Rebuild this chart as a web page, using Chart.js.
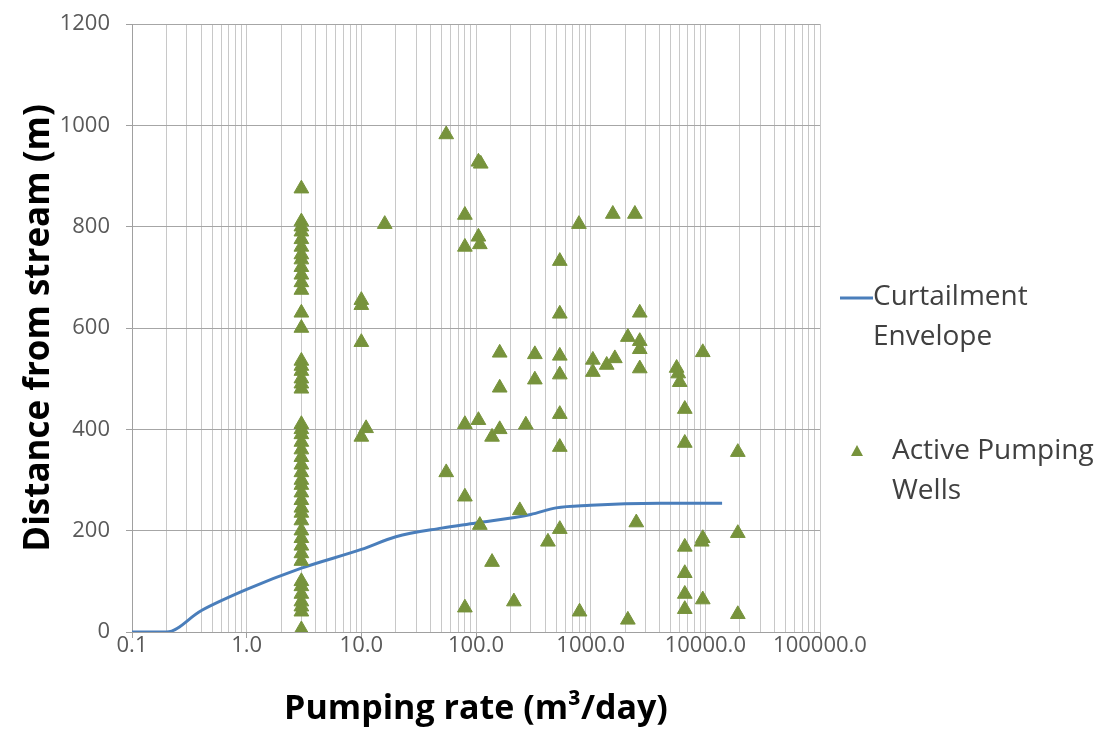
<!DOCTYPE html>
<html>
<head>
<meta charset="utf-8">
<title>Curtailment envelope</title>
<script src="https://cdn.jsdelivr.net/npm/chart.js@4.4.0/dist/chart.umd.min.js"></script>
<style>
  html, body { margin: 0; padding: 0; background: #fff; }
  #wrap { width: 1102px; height: 740px; }
</style>
</head>
<body>
<div id="wrap"><canvas id="wells-chart" width="1102" height="740"></canvas></div>
<script>
// Curtailment envelope (pumping rate m3/day -> distance m)
var envX = [0.1, 0.2, 0.4, 1, 3, 10, 20, 50, 100, 300, 500, 1000, 2000, 4000, 14000];
var envY = [0, 0, 42, 84, 126, 163, 188, 205, 215, 232, 245, 250, 253, 254, 254];

// Active pumping wells
var wellX = [
  3,3,3,3,3,3,3,3,3,3,3,3,3,3,3,3,3,3,3,3,3,3,3,3,
  3,3,3,3,3,3,3,3,3,3,3,3,3,3,3,3,3,3,3,3,3,3,3,
  10,10,10,10,11, 16, 55,55, 80,80,80,80,80,
  105,110,105,108,105,108, 138,138, 161,161,161, 214, 241, 272, 326,326, 424,
  538,538,538,538,538,538,538, 790,800,
  1045,1045,1380,1625, 1560,2430, 2110,2110, 2680,2680,2680,2680,2500,
  5620,5800,5980, 6620,6620,6620,6620,6620,6620,
  9500,9500,9300,9500, 19200,19200,19200
];
var wellY = [
  875,810,800,790,775,760,745,735,720,705,690,675,630,600,535,525,515,500,490,480,410,400,390,375,
  360,345,330,315,300,290,275,260,245,235,220,200,185,170,155,140,100,90,75,60,50,40,5,
  655,645,572,385,402, 805, 982,315, 823,760,410,267,48,
  928,924,780,765,418,211, 385,138, 551,482,400, 60, 240, 409, 548,498, 178,
  732,628,545,508,430,365,203, 805,40,
  537,513,527,540, 825,825, 582,24, 630,574,558,520,216,
  521,510,493, 440,373,168,116,75,45,
  552,185,178,64, 355,195,35
];

// axis ticks
var xMajor = [0.1, 1, 10, 100, 1000, 10000, 100000];
var xTickLabels = ['0.1', '1.0', '10.0', '100.0', '1000.0', '10000.0', '100000.0'];
var yTicks = [0, 200, 400, 600, 800, 1000, 1200];

var seriesNames = ['Curtailment Envelope', 'Active Pumping Wells'];
var lineColor = '#4a7ebb';
var wellColor = '#77933c';

function toPoints(xs, ys) {
  var pts = [];
  for (var i = 0; i < xs.length; i++) pts.push({x: xs[i], y: ys[i]});
  return pts;
}

function isMajor(v) {
  for (var i = 0; i < xMajor.length; i++) {
    if (Math.abs(v / xMajor[i] - 1) < 1e-6) return i;
  }
  return -1;
}

// legend drawn at the right of the plot, two-line labels
var sideLegend = {
  id: 'sideLegend',
  afterDraw: function(chart) {
    var ctx = chart.ctx;
    ctx.save();
    ctx.font = '28px "Open Sans", sans-serif';
    ctx.fillStyle = '#404040';
    ctx.textBaseline = 'middle';
    // line sample
    ctx.strokeStyle = lineColor;
    ctx.lineWidth = 3;
    ctx.beginPath();
    ctx.moveTo(840, 298);
    ctx.lineTo(873, 298);
    ctx.stroke();
    ctx.fillText('Curtailment', 873, 297);
    ctx.fillText('Envelope', 873, 337);
    // marker sample
    ctx.fillStyle = wellColor;
    ctx.beginPath();
    ctx.moveTo(857, 445);
    ctx.lineTo(863, 456);
    ctx.lineTo(851, 456);
    ctx.closePath();
    ctx.fill();
    ctx.fillStyle = '#404040';
    ctx.fillText('Active Pumping', 892, 451);
    ctx.fillText('Wells', 892, 491);
    ctx.restore();
  }
};

var ctx = document.getElementById('wells-chart').getContext('2d');
var wellsChart = new Chart(ctx, {
  type: 'scatter',
  data: {
    datasets: [{
      label: seriesNames[0],
      data: toPoints(envX, envY),
      showLine: true,
      borderColor: lineColor,
      borderWidth: 3,
      pointRadius: 0,
      cubicInterpolationMode: 'monotone',
      order: 2
    }, {
      label: seriesNames[1],
      data: toPoints(wellX, wellY),
      pointStyle: 'triangle',
      pointRadius: 8.5,
      backgroundColor: wellColor,
      borderColor: wellColor,
      borderWidth: 1,
      order: 1
    }]
  },
  options: {
    responsive: false,
    animation: false,
    layout: { padding: { top: 24, right: 282, bottom: 0, left: 0 } },
    plugins: {
      legend: { display: false },
      tooltip: { enabled: false }
    },
    scales: {
      x: {
        type: 'logarithmic',
        min: 0.1,
        max: 100000,
        afterBuildTicks: function(scale) {
          var t = [];
          for (var d = 0; d < xMajor.length - 1; d++) {
            for (var k = 1; k < 10; k++) t.push({value: xMajor[d] * k});
          }
          t.push({value: xMajor[xMajor.length - 1]});
          scale.ticks = t;
        },
        afterFit: function(scale) { scale.height = 108; },
        border: { color: '#a0a0a0', width: 1 },
        grid: {
          color: '#c8c8c8',
          lineWidth: 1,
          tickLength: 6,
          tickColor: function(c) {
            return c.tick && isMajor(c.tick.value) >= 0 ? '#a0a0a0' : 'rgba(0,0,0,0)';
          }
        },
        ticks: {
          autoSkip: false,
          maxRotation: 0,
          padding: -5,
          color: '#595959',
          font: { family: '"Open Sans", sans-serif', size: 22 },
          callback: function(v) {
            var i = isMajor(v);
            return i >= 0 ? xTickLabels[i] : '';
          }
        },
        title: {
          display: true,
          text: 'Pumping rate (m³/day)',
          color: '#000',
          padding: { top: 4, bottom: 10 },
          font: { family: '"Open Sans", sans-serif', size: 34, weight: 'bold' }
        }
      },
      y: {
        min: 0,
        max: 1200,
        afterBuildTicks: function(scale) {
          scale.ticks = yTicks.map(function(v) { return {value: v}; });
        },
        afterFit: function(scale) {
          scale.width = 132;
          scale.paddingTop = 0;
          scale.paddingBottom = 0;
        },
        border: { color: '#a0a0a0', width: 1 },
        grid: {
          color: '#a6a6a6',
          lineWidth: 1,
          tickLength: 6,
          tickColor: '#a0a0a0'
        },
        ticks: {
          padding: 16,
          color: '#595959',
          font: { family: '"Open Sans", sans-serif', size: 22 },
          callback: function(v) { return String(v); }
        },
        title: {
          display: true,
          text: 'Distance from stream (m)',
          color: '#000',
          padding: { top: 18, bottom: 0 },
          font: { family: '"Open Sans", sans-serif', size: 35, weight: 'bold' }
        }
      }
    }
  },
  plugins: [sideLegend]
});
</script>
</body>
</html>
